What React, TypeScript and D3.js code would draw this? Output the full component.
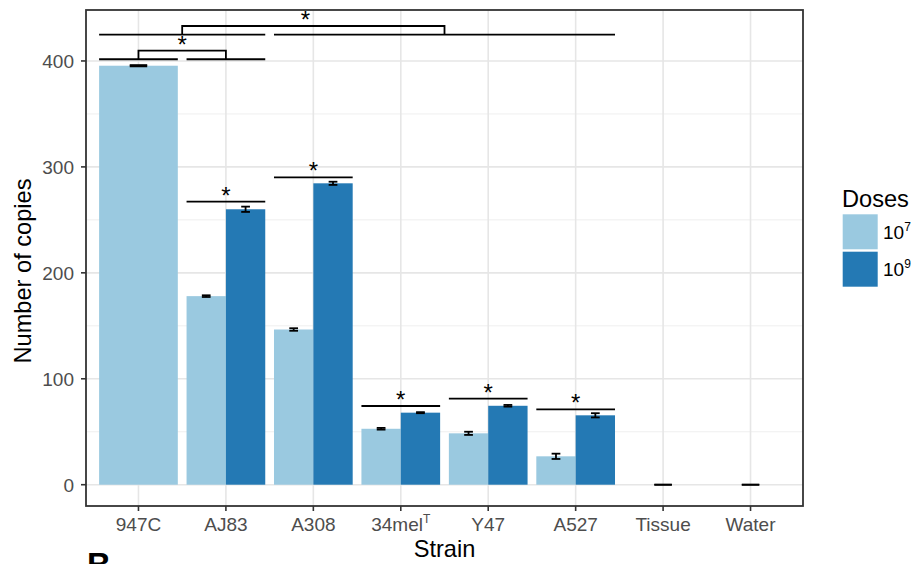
import React from "react";
import * as d3 from "d3";

const categories = ["947C", "AJ83", "A308", "34mel", "Y47", "A527", "Tissue", "Water"];
const doseLabels = ["7", "9"];
const lowDose = [395.5, 178, 146.5, 52.8, 48.5, 26.8, 0, 0];
const lowErr = [0.6, 0.8, 1.2, 0.8, 1.5, 2.5, 0, 0];
const highDose: (number | null)[] = [null, 260, 284.5, 68, 74.5, 65.5, null, null];
const highErr: (number | null)[] = [null, 2.5, 1.5, 0.5, 0.8, 2, null, null];
const yTicks = [0, 100, 200, 300, 400];
const yMinor = [50, 150, 250, 350];

// pairwise significance lines (within strain)
const pairCats = ["AJ83", "A308", "34mel", "Y47", "A527"];
const pairLineY = [267.2, 290.2, 74.3, 81.2, 71.2];

// group spans at top
const spanFrom = ["947C", "AJ83", "947C", "A308"];
const spanTo = ["947C", "AJ83", "AJ83", "A527"];
const spanY = [401.6, 401.6, 424.8, 424.8];
// brackets connecting spans: [leftSpan, rightSpan, topValue, starOffset(category units)]
const bracketLeft = [0, 2];
const bracketRight = [1, 3];
const bracketTop = [409.7, 433.0];
const bracketStarShift = [0, -0.09];

const W = 916, H = 564;
const panel = { left: 86, right: 803, top: 10, bottom: 506 };
const light = "#9ac9e0";
const dark = "#2479b4";
const FONT = "'Liberation Sans', Arial, Helvetica, sans-serif";

export default function App() {
  const x = d3.scaleBand<string>()
    .domain(categories)
    .range([panel.left, panel.right])
    .paddingInner(0.1)
    .paddingOuter(0.15);
  const step = x.step();
  const bw = x.bandwidth();
  const y = d3.scaleLinear().domain([-20.1, 448.1]).range([panel.bottom, panel.top]);
  const center = (c: string) => (x(c) as number) + bw / 2;
  const bandEnd = (c: string) => (x(c) as number) + bw;

  const bars: any[] = [];
  const errs: any[] = [];
  categories.forEach((c, i) => {
    const x0 = x(c) as number;
    const hv = highDose[i];
    const single = hv === null;
    const wLow = single ? bw : bw / 2;
    const v = lowDose[i];
    if (v > 0) {
      bars.push(<rect key={"l" + i} x={x0} y={y(v)} width={wLow} height={y(0) - y(v)} fill={light} />);
    }
    const capW = single ? step * 0.2 : step * 0.1;
    const cx = x0 + wLow / 2;
    errs.push({ cx, lo: v - lowErr[i], hi: v + lowErr[i], capW, key: "el" + i });
    if (!single) {
      const xd = x0 + bw / 2;
      bars.push(<rect key={"h" + i} x={xd} y={y(hv as number)} width={bw / 2} height={y(0) - y(hv as number)} fill={dark} />);
      errs.push({ cx: xd + bw / 4, lo: (hv as number) - (highErr[i] as number), hi: (hv as number) + (highErr[i] as number), capW, key: "eh" + i });
    }
  });

  const spanMid = (k: number) => ((x(spanFrom[k]) as number) + bandEnd(spanTo[k])) / 2;

  return (
    <svg width={W} height={H} style={{ position: "absolute", left: 0, top: 0, display: "block" }} fontFamily={FONT}>
      <rect x={0} y={0} width={W} height={H} fill="#fff" />
      {/* grid */}
      {yMinor.map((t) => (
        <line key={"mn" + t} x1={panel.left} x2={panel.right} y1={y(t)} y2={y(t)} stroke="#ebebeb" strokeWidth={0.8} />
      ))}
      {yTicks.map((t) => (
        <line key={"mj" + t} x1={panel.left} x2={panel.right} y1={y(t)} y2={y(t)} stroke="#e6e6e6" strokeWidth={1.6} />
      ))}
      {categories.map((c) => (
        <line key={"vg" + c} x1={center(c)} x2={center(c)} y1={panel.top} y2={panel.bottom} stroke="#e6e6e6" strokeWidth={1.6} />
      ))}
      {bars}
      {errs.map((e) => (
        <g key={e.key} stroke="#000" strokeWidth={1.8}>
          <line x1={e.cx} x2={e.cx} y1={y(e.lo)} y2={y(e.hi)} />
          <line x1={e.cx - e.capW / 2} x2={e.cx + e.capW / 2} y1={y(e.lo)} y2={y(e.lo)} />
          <line x1={e.cx - e.capW / 2} x2={e.cx + e.capW / 2} y1={y(e.hi)} y2={y(e.hi)} />
        </g>
      ))}
      {/* pair significance */}
      {pairCats.map((c, i) => (
        <g key={"p" + c}>
          <line x1={x(c) as number} x2={bandEnd(c)} y1={y(pairLineY[i])} y2={y(pairLineY[i])} stroke="#000" strokeWidth={1.8} />
          <text x={center(c)} y={y(pairLineY[i]) + 2} textAnchor="middle" fontSize={24} fill="#000">*</text>
        </g>
      ))}
      {/* spans */}
      {spanFrom.map((c, k) => (
        <line key={"s" + k} x1={x(c) as number} x2={bandEnd(spanTo[k])} y1={y(spanY[k])} y2={y(spanY[k])} stroke="#000" strokeWidth={1.8} />
      ))}
      {bracketLeft.map((l, k) => {
        const r = bracketRight[k];
        const xl = spanMid(l), xr = spanMid(r);
        const top = y(bracketTop[k]);
        const path = `M${xl},${y(spanY[l])}V${top}H${xr}V${y(spanY[r])}`;
        const sx = (xl + xr) / 2 + bracketStarShift[k] * step;
        return (
          <g key={"b" + k}>
            <path d={path} fill="none" stroke="#000" strokeWidth={1.8} />
            <text x={sx} y={top + 2} textAnchor="middle" fontSize={24} fill="#000">*</text>
          </g>
        );
      })}
      {/* panel border */}
      <rect x={panel.left} y={panel.top} width={panel.right - panel.left} height={panel.bottom - panel.top} fill="none" stroke="#333" strokeWidth={1.8} />
      {/* y axis ticks */}
      {yTicks.map((t) => (
        <g key={"yt" + t}>
          <line x1={panel.left - 5} x2={panel.left} y1={y(t)} y2={y(t)} stroke="#333" strokeWidth={1.6} />
          <text x={panel.left - 12} y={y(t)} dy="0.36em" textAnchor="end" fontSize={19} fill="#4d4d4d">{t}</text>
        </g>
      ))}
      {/* x axis ticks */}
      {categories.map((c) => (
        <g key={"xt" + c}>
          <line x1={center(c)} x2={center(c)} y1={panel.bottom} y2={panel.bottom + 5} stroke="#333" strokeWidth={1.6} />
          <text x={center(c)} y={panel.bottom + 25} textAnchor="middle" fontSize={19} fill="#4d4d4d">
            {c}
            {c === "34mel" ? <tspan fontSize={12} dy={-8}>T</tspan> : null}
          </text>
        </g>
      ))}
      {/* axis titles */}
      <text x={(panel.left + panel.right) / 2} y={557} textAnchor="middle" fontSize={23.6} fill="#000">Strain</text>
      <text transform={`translate(31,${(panel.top + panel.bottom) / 2 + 13}) rotate(-90)`} textAnchor="middle" fontSize={23.6} fill="#000">Number of copies</text>
      {/* legend */}
      <text x={842} y={207} fontSize={23.6} fill="#000">Doses</text>
      {doseLabels.map((d, i) => (
        <g key={"lg" + d}>
          <rect x={842.7} y={214.3 + i * 37.4} width={35} height={35} fill={i === 0 ? light : dark} />
          <text x={883} y={214.3 + i * 37.4 + 17.5} dy="0.36em" fontSize={19} fill="#000">
            10<tspan fontSize={12} dy={-8}>{d}</tspan>
          </text>
        </g>
      ))}
      {/* cut-off panel label from the next figure */}
      <text x={87} y={576} fontSize={33} fontWeight="bold" fill="#000">B</text>
    </svg>
  );
}
